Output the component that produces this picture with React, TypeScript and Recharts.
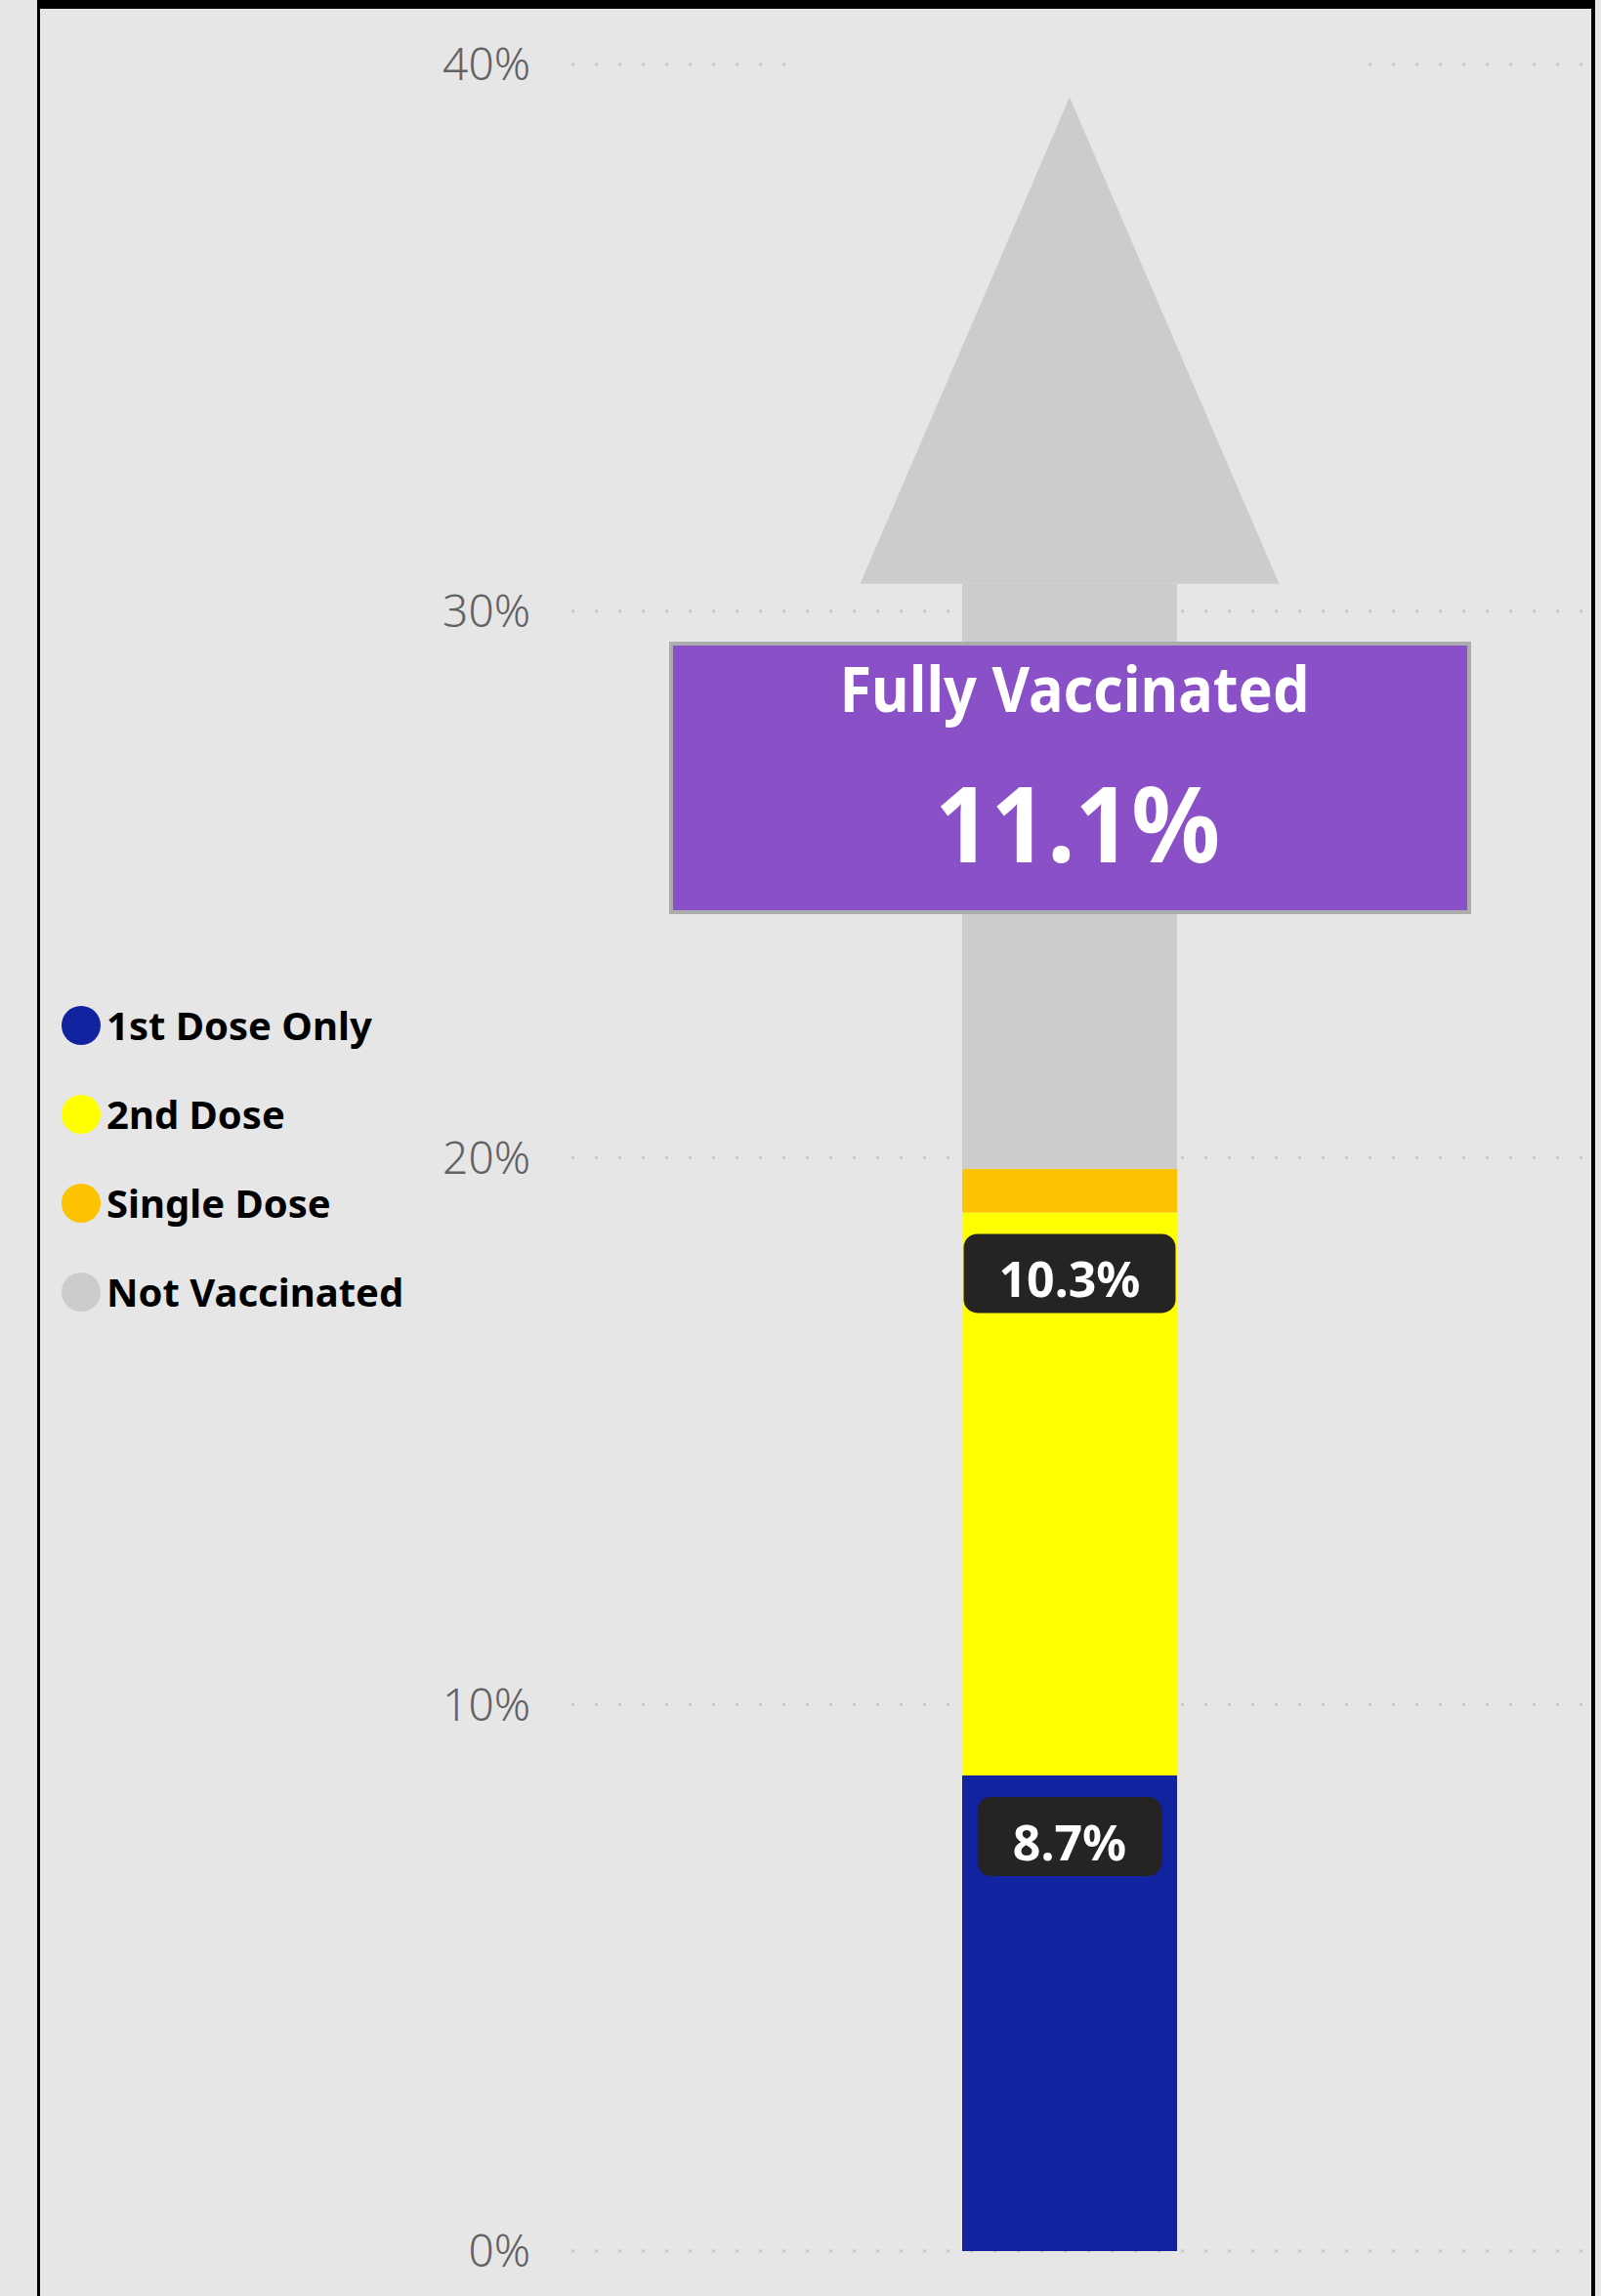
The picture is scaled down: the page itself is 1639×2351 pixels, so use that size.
import React from 'react';
import { BarChart, Bar, XAxis, YAxis, CartesianGrid, LabelList, Legend } from 'recharts';

// ---- data ----
const categories = ['Vaccination Status'];
const firstDoseOnly = [8.7];
const secondDose = [10.3];
const singleDose = [0.8];
const notVaccinated = [80.2];
const yTicks = [0, 10, 20, 30, 40];
const yMax = 40;
const seriesNames = ['1st Dose Only', '2nd Dose', 'Single Dose', 'Not Vaccinated'];
const seriesColors = ['#11239f', '#ffff00', '#fdc200', '#cccccc'];
// arrow graphic (Power BI image overlay), in axis units
const arrowHeadBase = 30.5;
const arrowTip = 39.4;

const BG = '#e6e6e6';
const FONT = "'Noto Sans', 'Open Sans', sans-serif";

const data = categories.map((name, i) => {
  const vaccinated = firstDoseOnly[i] + secondDose[i] + singleDose[i];
  const shown = Math.max(0, Math.min(notVaccinated[i], yMax - vaccinated));
  return {
    name,
    first: firstDoseOnly[i],
    second: secondDose[i],
    single: singleDose[i],
    notVacc: notVaccinated[i],
    notVaccShown: Math.round(shown * 1e6) / 1e6,
  };
});
const fullyVaccinated = secondDose[0] + singleDose[0];

let measureCtx: CanvasRenderingContext2D | null = null;
function textWidth(t: string, font: string): number {
  if (typeof document === 'undefined') return t.length * 28;
  if (!measureCtx) measureCtx = document.createElement('canvas').getContext('2d');
  if (!measureCtx) return t.length * 28;
  measureCtx.font = font;
  return measureCtx.measureText(t).width;
}

const DataLabel = (props: any) => {
  const { x, y, width, value } = props;
  if (value == null) return null;
  const text = `${Number(value).toFixed(1)}%`;
  const w = textWidth(text, `700 50px ${FONT}`) + 72;
  const h = 81;
  const cx = Number(x) + Number(width) / 2;
  const top = Number(y) + 22;
  return (
    <g>
      <rect x={cx - w / 2} y={top} width={w} height={h} rx={14} ry={14} fill="#252423" />
      <text
        x={cx}
        y={top + h / 2 + 5}
        textAnchor="middle"
        dominantBaseline="central"
        fill="#ffffff"
        fontSize={50}
        fontWeight={700}
        fontFamily={FONT}
      >
        {text}
      </text>
    </g>
  );
};

const ArrowShape = (props: any) => {
  const { x, y, width, height, payload, fill } = props;
  if (!payload || !height) return null;
  const bottomVal = payload.first + payload.second + payload.single;
  const span = payload.notVaccShown;
  if (!span) return null;
  const pxPer = height / span;
  const base = y + height;
  const yOf = (v: number) => base - (v - bottomVal) * pxPer;
  const cx = x + width / 2;
  const headY = yOf(arrowHeadBase);
  const tipY = yOf(arrowTip);
  const boxTop = y - 24;
  return (
    <g>
      <rect x={x} y={headY} width={width} height={base - headY} fill={fill} />
      <rect x={cx - 1.3 * width} y={boxTop} width={2.66 * width} height={headY - boxTop} fill={BG} />
      <polygon
        points={`${cx - 0.975 * width},${headY} ${cx + 0.975 * width},${headY} ${cx},${tipY}`}
        fill={fill}
      />
    </g>
  );
};

const LegendContent = () => (
  <div style={{ display: 'flex', flexDirection: 'column' }}>
    {seriesNames.map((n, i) => (
      <div key={n} style={{ display: 'flex', alignItems: 'center', height: 91 }}>
        <span
          style={{
            width: 40,
            height: 40,
            borderRadius: '50%',
            background: seriesColors[i],
            marginRight: 6,
            flex: 'none',
            display: 'inline-block',
          }}
        />
        <span
          style={{
            fontFamily: FONT,
            fontWeight: 700,
            fontSize: 40,
            color: '#000',
            whiteSpace: 'nowrap',
            lineHeight: 1,
          }}
        >
          {n}
        </span>
      </div>
    ))}
  </div>
);

export default function App() {
  return (
    <div
      style={{
        position: 'absolute',
        left: 0,
        top: 0,
        width: 1639,
        height: 2351,
        background: BG,
        overflow: 'hidden',
      }}
    >
      <BarChart
        width={1639}
        height={2351}
        data={data}
        margin={{ top: 66, right: 19, bottom: 46, left: 0 }}
      >
        <CartesianGrid vertical={false} stroke="#c8c8c8" strokeWidth={3} strokeDasharray="3 21" />
        <XAxis dataKey="name" hide padding={{ left: 0, right: 15 }} />
        <YAxis
          width={585}
          domain={[0, yMax]}
          ticks={yTicks}
          tickFormatter={(v: number) => `${v}%`}
          axisLine={false}
          tickLine={false}
          tickSize={0}
          tickMargin={42}
          tick={{ fontSize: 46, fill: '#626262', fontFamily: FONT, fontWeight: 300 }}
        />
        <Legend
          layout="horizontal"
          align="center"
          verticalAlign="middle"
          content={<LegendContent />}
          wrapperStyle={{ left: 63, top: 1004.5, width: 520, height: 'auto' }}
        />
        <Bar dataKey="first" name={seriesNames[0]} stackId="a" fill={seriesColors[0]} barSize={220} isAnimationActive={false}>
          <LabelList dataKey="first" content={<DataLabel />} />
        </Bar>
        <Bar dataKey="second" name={seriesNames[1]} stackId="a" fill={seriesColors[1]} barSize={220} isAnimationActive={false}>
          <LabelList dataKey="second" content={<DataLabel />} />
        </Bar>
        <Bar dataKey="single" name={seriesNames[2]} stackId="a" fill={seriesColors[2]} barSize={220} isAnimationActive={false} />
        <Bar
          dataKey="notVaccShown"
          name={seriesNames[3]}
          stackId="a"
          fill={seriesColors[3]}
          barSize={220}
          isAnimationActive={false}
          shape={<ArrowShape />}
        />
      </BarChart>

      {/* frame */}
      <div style={{ position: 'absolute', left: 38, top: 0, width: 1595, height: 9, background: '#000' }} />
      <div style={{ position: 'absolute', left: 38, top: 0, width: 3, height: 2351, background: '#000' }} />
      <div style={{ position: 'absolute', left: 1629, top: 0, width: 4, height: 2351, background: '#000' }} />

      {/* Fully Vaccinated card */}
      <div
        style={{
          position: 'absolute',
          left: 685,
          top: 657,
          width: 821,
          height: 279,
          boxSizing: 'border-box',
          border: '4px solid #acacac',
          background: '#8a50c8',
        }}
      >
        <svg width={813} height={271} style={{ display: 'block' }}>
          <text
            x={411}
            y={68}
            textAnchor="middle"
            fill="#ffffff"
            fontSize={64}
            fontWeight={700}
            fontFamily={FONT}
            textLength={481}
            lengthAdjust="spacingAndGlyphs"
          >
            Fully Vaccinated
          </text>
          <text
            x={414}
            y={222}
            textAnchor="middle"
            fill="#ffffff"
            fontSize={108}
            fontWeight={700}
            fontFamily={FONT}
            textLength={292}
            lengthAdjust="spacingAndGlyphs"
          >
            {`${fullyVaccinated.toFixed(1)}%`}
          </text>
        </svg>
      </div>
    </div>
  );
}
